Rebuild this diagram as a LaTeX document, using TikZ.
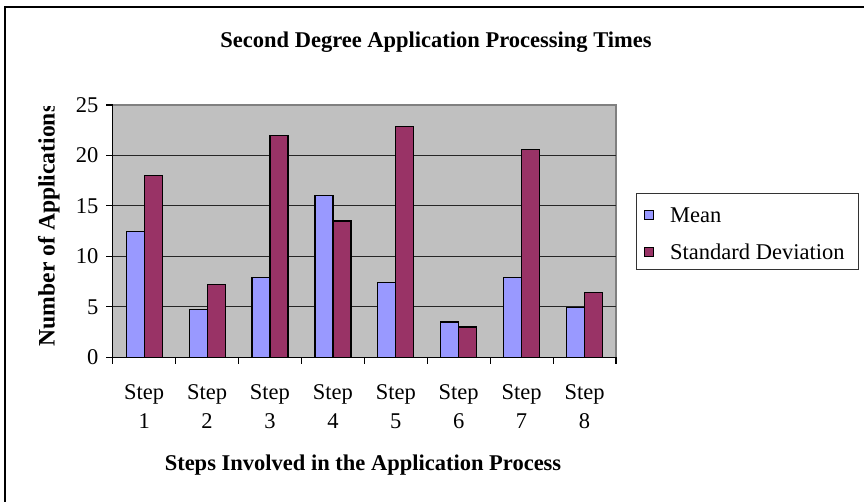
\documentclass[tikz,border=0pt]{standalone}
\usepackage{fontspec}
\setmainfont{Liberation Serif}
\definecolor{meanblue}{HTML}{9999FF}
\definecolor{sdmaroon}{HTML}{993366}
\definecolor{plotgray}{HTML}{C0C0C0}
\definecolor{edgegray}{HTML}{808080}
\newcommand{\chartfont}{\fontsize{22.5}{29}\selectfont}
\begin{document}
\begin{tikzpicture}[x=1pt,y=-1pt,
  bar/.style={draw=black,line width=1.2pt},
  grid line/.style={draw=black!85,line width=0.9pt},
  axis line/.style={draw=black,line width=1.1pt},
  tick label/.style={font=\chartfont,anchor=east,inner sep=0pt},
  cat label/.style={font=\chartfont,align=center,inner sep=0pt,anchor=north},
  axis title/.style={font=\chartfont\bfseries,inner sep=0pt},
  legend key/.style={draw=black,line width=0.9pt,minimum size=9pt,inner sep=0pt}]
\useasboundingbox (0,0) rectangle (864,502);
\fill[white] (0,0) rectangle (864,502);
% outer chart frame (only top and left edges fall inside the page)
\draw[black,line width=1.3pt] (5,502) -- (5,7) -- (864,7);

% plot area
\def\xl{112.7}\def\xr{616}\def\yb{357.3}\def\yt{105}
\fill[plotgray] (\xl,\yt) rectangle (\xr,\yb);
\draw[edgegray,line width=1.1pt] (\xl,\yt) -- (\xr,\yt) -- (\xr,\yb);
\foreach \v in {5,10,15,20} {
  \pgfmathsetmacro{\yy}{\yb-10.09*\v}
  \draw[grid line] (\xl,\yy) -- (\xr,\yy);
}

% bars: step / mean / standard deviation
\foreach \i/\m/\s in {1/12.5/18, 2/4.75/7.2, 3/7.9/22, 4/16/13.5, 5/7.4/22.9, 6/3.5/3, 7/7.9/20.6, 8/4.9/6.45} {
  \pgfmathsetmacro{\xa}{\xl+62.91*(\i-1)+13.5}
  \pgfmathsetmacro{\xb}{\xa+18}
  \pgfmathsetmacro{\xc}{\xb+18}
  \pgfmathsetmacro{\ym}{\yb-10.09*\m}
  \pgfmathsetmacro{\ys}{\yb-10.09*\s}
  \filldraw[bar,fill=meanblue] (\xa,\yb) rectangle (\xb,\ym);
  \filldraw[bar,fill=sdmaroon] (\xb,\yb) rectangle (\xc,\ys);
  \pgfmathsetmacro{\xm}{\xl+62.91*(\i-0.5)}
  \node[cat label] (step\i) at (\xm,384) {Step\\\i};
}

% axes and ticks
\draw[axis line] (\xl,\yt) -- (\xl,\yb) -- (\xr,\yb);
\foreach \v in {0,5,...,25} {
  \pgfmathsetmacro{\yy}{\yb-10.09*\v}
  \draw[axis line] (106,\yy) -- (\xl,\yy);
  \node[tick label] (ylab\v) at (98.5,\yy) {\v};
}
\foreach \k in {0,...,8} {
  \pgfmathsetmacro{\xx}{\xl+62.91*\k}
  \draw[axis line] (\xx,\yb) -- (\xx,364);
}

% titles
\node[axis title,anchor=base] (title) at (436,47.7) {Second Degree Application Processing Times};
\node[axis title,anchor=base] (xtitle) at (363,470.7) {Steps Involved in the Application Process};
\begin{scope}
  \clip (0,107) rectangle (100,502);
  \node[axis title,font=\fontsize{23.6}{29}\selectfont\bfseries,rotate=90,anchor=base] (ytitle) at (54.5,225) {Number of Applications};
\end{scope}

% legend
\draw[black!80,line width=0.9pt] (636,193.3) rectangle (858.3,269);
\node[legend key,fill=meanblue] (keymean) at (648.5,215) {};
\node[legend key,fill=sdmaroon] (keysd) at (648.5,251.7) {};
\node[font=\chartfont,anchor=west,inner sep=0pt] (lmean) at (670,215) {Mean};
\node[font=\chartfont,anchor=west,inner sep=0pt] (lsd) at (670,251.7) {Standard Deviation};
\end{tikzpicture}
\end{document}
